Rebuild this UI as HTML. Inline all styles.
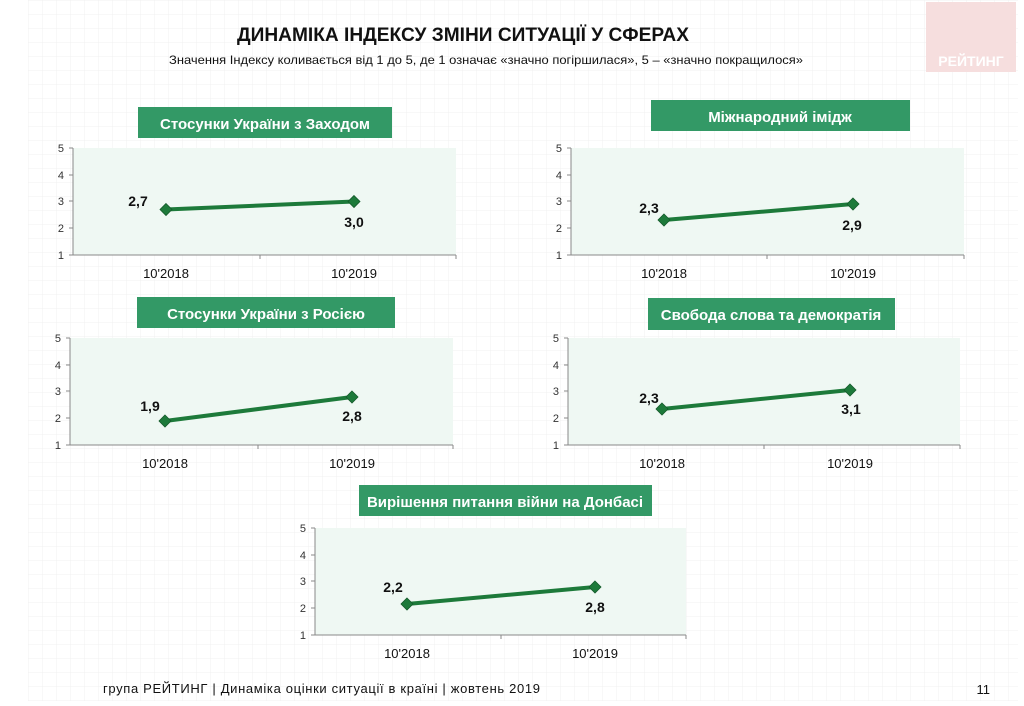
<!DOCTYPE html>
<html><head><meta charset="utf-8"><style>
body{margin:0;width:1024px;height:701px;overflow:hidden;background:#fff;}
svg text{font-family:"Liberation Sans",sans-serif;}
</style></head><body>
<svg width="1024" height="701" viewBox="0 0 1024 701" xmlns="http://www.w3.org/2000/svg">
<defs>
<pattern id="g" width="14" height="14" patternUnits="userSpaceOnUse"><path d="M14 0H0V14" fill="none" stroke="#f1f1f1" stroke-width="1"/></pattern>
<g id="dm"><path d="M0,-6 L6,0 L0,6 L-6,0Z" fill="#1d7a3a" stroke="#145a2a" stroke-width="0.8"/></g>
</defs>
<rect x="28" y="0" width="990" height="701" fill="url(#g)"/>
<rect x="926" y="2" width="90" height="70" fill="#f6dede"/>
<text x="971" y="66" font-size="14" font-weight="bold" fill="#fff" text-anchor="middle">РЕЙТИНГ</text>
<text x="463" y="41" font-size="19" font-weight="bold" text-anchor="middle" fill="#111" textLength="452" lengthAdjust="spacingAndGlyphs">ДИНАМІКА ІНДЕКСУ ЗМІНИ СИТУАЦІЇ У СФЕРАХ</text>
<text x="486" y="64" font-size="12" text-anchor="middle" fill="#111" textLength="634" lengthAdjust="spacingAndGlyphs">Значення Індексу коливається від 1 до 5, де 1 означає «значно погіршилася», 5 – «значно покращилося»</text>

<g font-size="11" fill="#333">
<!-- Chart 1 -->
<rect x="73" y="148" width="383" height="107" fill="#eff8f3"/>
<rect x="138" y="107" width="254" height="31" fill="#339966"/>
<text x="265" y="129" font-size="15" font-weight="bold" fill="#fff" text-anchor="middle">Стосунки України з Заходом</text>
<g stroke="#888" stroke-width="1"><line x1="73" y1="148" x2="73" y2="255"/><line x1="73" y1="255" x2="456" y2="255"/>
<line x1="69" y1="148" x2="73" y2="148"/><line x1="69" y1="175" x2="73" y2="175"/><line x1="69" y1="201" x2="73" y2="201"/><line x1="69" y1="228" x2="73" y2="228"/><line x1="69" y1="255" x2="73" y2="255"/>
<line x1="260" y1="255" x2="260" y2="259"/><line x1="456" y1="255" x2="456" y2="259"/></g>
<text x="64" y="152" text-anchor="end">5</text><text x="64" y="179" text-anchor="end">4</text><text x="64" y="205" text-anchor="end">3</text><text x="64" y="232" text-anchor="end">2</text><text x="64" y="259" text-anchor="end">1</text>
<text x="166" y="278" font-size="13" text-anchor="middle" fill="#111">10'2018</text><text x="354" y="278" font-size="13" text-anchor="middle" fill="#111">10'2019</text>
<line x1="166" y1="209.5" x2="354" y2="201.5" stroke="#1d7a3a" stroke-width="4"/>
<use href="#dm" x="166" y="209.5"/><use href="#dm" x="354" y="201.5"/>
<text x="138" y="206" font-size="14" font-weight="bold" text-anchor="middle" fill="#111">2,7</text>
<text x="354" y="227" font-size="14" font-weight="bold" text-anchor="middle" fill="#111">3,0</text>

<!-- Chart 2 -->
<rect x="571" y="148" width="393" height="107" fill="#eff8f3"/>
<rect x="651" y="100" width="259" height="31" fill="#339966"/>
<text x="780" y="122" font-size="15" font-weight="bold" fill="#fff" text-anchor="middle">Міжнародний імідж</text>
<g stroke="#888" stroke-width="1"><line x1="571" y1="148" x2="571" y2="255"/><line x1="571" y1="255" x2="964" y2="255"/>
<line x1="567" y1="148" x2="571" y2="148"/><line x1="567" y1="175" x2="571" y2="175"/><line x1="567" y1="201" x2="571" y2="201"/><line x1="567" y1="228" x2="571" y2="228"/><line x1="567" y1="255" x2="571" y2="255"/>
<line x1="767" y1="255" x2="767" y2="259"/><line x1="964" y1="255" x2="964" y2="259"/></g>
<text x="562" y="152" text-anchor="end">5</text><text x="562" y="179" text-anchor="end">4</text><text x="562" y="205" text-anchor="end">3</text><text x="562" y="232" text-anchor="end">2</text><text x="562" y="259" text-anchor="end">1</text>
<text x="664" y="278" font-size="13" text-anchor="middle" fill="#111">10'2018</text><text x="853" y="278" font-size="13" text-anchor="middle" fill="#111">10'2019</text>
<line x1="664" y1="220" x2="853" y2="204" stroke="#1d7a3a" stroke-width="4"/>
<use href="#dm" x="664" y="220"/><use href="#dm" x="853" y="204"/>
<text x="649" y="213" font-size="14" font-weight="bold" text-anchor="middle" fill="#111">2,3</text>
<text x="852" y="230" font-size="14" font-weight="bold" text-anchor="middle" fill="#111">2,9</text>

<!-- Chart 3 -->
<rect x="70" y="338" width="383" height="107" fill="#eff8f3"/>
<rect x="137" y="297" width="258" height="31" fill="#339966"/>
<text x="266" y="319" font-size="15" font-weight="bold" fill="#fff" text-anchor="middle">Стосунки України з Росією</text>
<g stroke="#888" stroke-width="1"><line x1="70" y1="338" x2="70" y2="445"/><line x1="70" y1="445" x2="453" y2="445"/>
<line x1="66" y1="338" x2="70" y2="338"/><line x1="66" y1="365" x2="70" y2="365"/><line x1="66" y1="391" x2="70" y2="391"/><line x1="66" y1="418" x2="70" y2="418"/><line x1="66" y1="445" x2="70" y2="445"/>
<line x1="258" y1="445" x2="258" y2="449"/><line x1="453" y1="445" x2="453" y2="449"/></g>
<text x="61" y="342" text-anchor="end">5</text><text x="61" y="369" text-anchor="end">4</text><text x="61" y="395" text-anchor="end">3</text><text x="61" y="422" text-anchor="end">2</text><text x="61" y="449" text-anchor="end">1</text>
<text x="165" y="468" font-size="13" text-anchor="middle" fill="#111">10'2018</text><text x="352" y="468" font-size="13" text-anchor="middle" fill="#111">10'2019</text>
<line x1="165" y1="421" x2="352" y2="397" stroke="#1d7a3a" stroke-width="4"/>
<use href="#dm" x="165" y="421"/><use href="#dm" x="352" y="397"/>
<text x="150" y="411" font-size="14" font-weight="bold" text-anchor="middle" fill="#111">1,9</text>
<text x="352" y="421" font-size="14" font-weight="bold" text-anchor="middle" fill="#111">2,8</text>

<!-- Chart 4 -->
<rect x="568" y="338" width="392" height="107" fill="#eff8f3"/>
<rect x="648" y="298" width="247" height="32" fill="#339966"/>
<text x="771" y="320" font-size="15" font-weight="bold" fill="#fff" text-anchor="middle">Свобода слова та демократія</text>
<g stroke="#888" stroke-width="1"><line x1="568" y1="338" x2="568" y2="445"/><line x1="568" y1="445" x2="960" y2="445"/>
<line x1="564" y1="338" x2="568" y2="338"/><line x1="564" y1="365" x2="568" y2="365"/><line x1="564" y1="391" x2="568" y2="391"/><line x1="564" y1="418" x2="568" y2="418"/><line x1="564" y1="445" x2="568" y2="445"/>
<line x1="764" y1="445" x2="764" y2="449"/><line x1="960" y1="445" x2="960" y2="449"/></g>
<text x="559" y="342" text-anchor="end">5</text><text x="559" y="369" text-anchor="end">4</text><text x="559" y="395" text-anchor="end">3</text><text x="559" y="422" text-anchor="end">2</text><text x="559" y="449" text-anchor="end">1</text>
<text x="662" y="468" font-size="13" text-anchor="middle" fill="#111">10'2018</text><text x="850" y="468" font-size="13" text-anchor="middle" fill="#111">10'2019</text>
<line x1="662" y1="409" x2="850" y2="390" stroke="#1d7a3a" stroke-width="4"/>
<use href="#dm" x="662" y="409"/><use href="#dm" x="850" y="390"/>
<text x="649" y="403" font-size="14" font-weight="bold" text-anchor="middle" fill="#111">2,3</text>
<text x="851" y="414" font-size="14" font-weight="bold" text-anchor="middle" fill="#111">3,1</text>

<!-- Chart 5 -->
<rect x="315" y="528" width="371" height="107" fill="#eff8f3"/>
<rect x="359" y="485" width="293" height="31" fill="#339966"/>
<text x="505" y="507" font-size="15" font-weight="bold" fill="#fff" text-anchor="middle">Вирішення питання війни на Донбасі</text>
<g stroke="#888" stroke-width="1"><line x1="315" y1="528" x2="315" y2="635"/><line x1="315" y1="635" x2="686" y2="635"/>
<line x1="311" y1="528" x2="315" y2="528"/><line x1="311" y1="555" x2="315" y2="555"/><line x1="311" y1="581" x2="315" y2="581"/><line x1="311" y1="608" x2="315" y2="608"/><line x1="311" y1="635" x2="315" y2="635"/>
<line x1="501" y1="635" x2="501" y2="639"/><line x1="686" y1="635" x2="686" y2="639"/></g>
<text x="306" y="532" text-anchor="end">5</text><text x="306" y="559" text-anchor="end">4</text><text x="306" y="585" text-anchor="end">3</text><text x="306" y="612" text-anchor="end">2</text><text x="306" y="639" text-anchor="end">1</text>
<text x="407" y="658" font-size="13" text-anchor="middle" fill="#111">10'2018</text><text x="595" y="658" font-size="13" text-anchor="middle" fill="#111">10'2019</text>
<line x1="407" y1="604" x2="595" y2="587" stroke="#1d7a3a" stroke-width="4"/>
<use href="#dm" x="407" y="604"/><use href="#dm" x="595" y="587"/>
<text x="393" y="592" font-size="14" font-weight="bold" text-anchor="middle" fill="#111">2,2</text>
<text x="595" y="612" font-size="14" font-weight="bold" text-anchor="middle" fill="#111">2,8</text>
</g>

<text x="103" y="693" font-size="13" fill="#111" textLength="437" lengthAdjust="spacing">група РЕЙТИНГ |  Динаміка оцінки ситуації в країні  |  жовтень  2019</text>
<text x="990" y="694" font-size="13" fill="#111" text-anchor="end">11</text>
</svg>
</body></html>
